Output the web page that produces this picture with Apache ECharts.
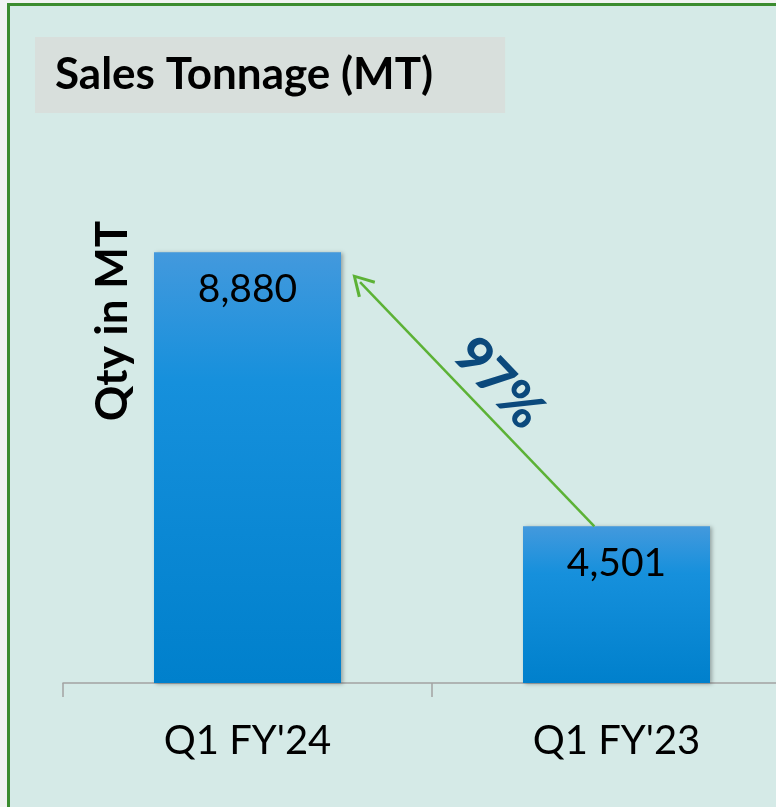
<!DOCTYPE html>
<html lang="en">
<head>
    <meta charset="UTF-8">
    <title>Sales Tonnage</title>
    <style>
        body {
            margin: 0;
            overflow: hidden;
            background-color: #f1f3f2;
        }
    </style>
</head>
<body>
<!-- the plot runs past the right edge of the window, as in the original slide -->
<div id="demo" style="width: 801px;height: 807px;"></div>
</body>
<script src="https://cdn.jsdelivr.net/npm/echarts@6/dist/echarts.min.js"></script>
<script>
    /*quarters*/
    var quarters = ["Q1 FY'24", "Q1 FY'23"];
    /*tonnage sold*/
    var tonnage = [8880, 4501];
    /*growth shown by the arrow*/
    var growthText = '97%';
    /*arrow ends: [position along the quarters (0 = first bar centre), value]*/
    var arrowFrom = [0.94, 4501];
    var arrowTo = [0.305, 8400];

    var demo = echarts.init(document.getElementById('demo'));
    var font = 'Lato, "Open Sans", sans-serif';

    var option_demo = {
        backgroundColor: '#f1f3f2',
        animation: false,
        title: {
            text: 'Sales Tonnage (MT)',
            left: 35,
            top: 37,
            backgroundColor: '#d8dfdc',
            padding: [16, 72, 16, 20],
            textStyle: {
                fontFamily: font,
                fontSize: 44,
                fontWeight: 'bold',
                color: '#000'
            }
        },
        graphic: [
            {
                type: 'rect',
                z: -10,
                shape: {x: 7, y: 3, width: 800, height: 820},
                style: {fill: '#d5eae7'}
            },
            {
                type: 'polyline',
                z: -9,
                shape: {points: [[8.5, 820], [8.5, 4.5], [800, 4.5]]},
                style: {stroke: '#3b8c2f', lineWidth: 3, fill: null}
            },
            {
                /*y axis name*/
                type: 'text',
                x: 113,
                y: 321,
                rotation: Math.PI / 2,
                style: {
                    text: 'Qty in MT',
                    fontFamily: font,
                    fontSize: 44,
                    fontWeight: 'bold',
                    fill: '#000',
                    align: 'center',
                    verticalAlign: 'middle'
                }
            }
        ],
        grid: {
            left: 63,
            right: 0,
            top: 182,
            bottom: 124
        },
        xAxis: [
            {
                type: 'category',
                data: quarters,
                axisLine: {
                    show: true,
                    lineStyle: {color: '#a3a3a3', width: 1.5}
                },
                axisTick: {
                    show: true,
                    length: 14,
                    lineStyle: {color: '#a3a3a3', width: 1.5}
                },
                axisLabel: {
                    margin: 38,
                    fontFamily: font,
                    fontSize: 40,
                    color: '#000'
                }
            },
            {
                /*same span as the quarters, used to place the arrow*/
                type: 'value',
                min: -0.5,
                max: 1.5,
                show: false
            }
        ],
        yAxis: {
            type: 'value',
            min: 2000,
            max: 10000,
            axisLine: {show: false},
            axisTick: {show: false},
            axisLabel: {show: false},
            splitLine: {show: false}
        },
        series: [
            {
                type: 'bar',
                barWidth: 187,
                data: tonnage,
                itemStyle: {
                    color: new echarts.graphic.LinearGradient(0, 0, 0, 1, [
                        {offset: 0, color: '#4399dd'},
                        {offset: 0.3, color: '#1690dc'},
                        {offset: 1, color: '#0080cc'}
                    ]),
                    shadowColor: 'rgba(0,0,0,0.3)',
                    shadowBlur: 4,
                    shadowOffsetX: 2,
                    shadowOffsetY: 1
                },
                label: {
                    show: true,
                    position: 'insideTop',
                    distance: 18,
                    fontFamily: font,
                    fontSize: 39,
                    color: '#000',
                    formatter: function (p) {
                        return p.value.toLocaleString('en-US');
                    }
                }
            },
            {
                type: 'line',
                xAxisIndex: 1,
                data: [],
                markLine: {
                    silent: true,
                    symbol: ['none', 'path://M50,0 L100,86 L89,93 L50,24 L11,93 L0,86 Z'],
                    symbolSize: [24, 22],
                    lineStyle: {color: '#5cb236', width: 2.5, type: 'solid'},
                    label: {
                        show: true,
                        position: 'middle',
                        distance: 4,
                        formatter: growthText,
                        fontFamily: font,
                        fontSize: 52,
                        fontWeight: 900,
                        color: '#0b497c'
                    },
                    data: [[{coord: arrowFrom}, {coord: arrowTo}]]
                }
            }
        ]
    };
    demo.setOption(option_demo);
</script>
</html>
